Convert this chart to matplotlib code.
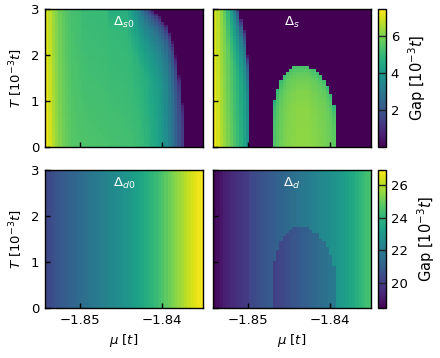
import numpy as np
import matplotlib
matplotlib.use("Agg")
import matplotlib.pyplot as plt

# ---------------- data ----------------
mu_range = [-1.8542, -1.8350]          # mu [t]
T_range = [0.0, 3.0]                   # T [1e-3 t]
n_T = 50

# s-wave, no coexistence: gap at T=0 per mu column and critical temperature
gap_s0_T0 = [7.3, 7.0, 6.6, 6.3, 6.05, 5.85, 5.7, 5.6, 5.5, 5.45, 5.42, 5.4, 5.38, 5.36,
             5.35, 5.34, 5.33, 5.32, 5.31, 5.3, 5.29, 5.28, 5.27, 5.26, 5.24, 5.22, 5.2,
             5.15, 5.1, 5.0, 4.9, 4.75, 4.6, 4.45, 4.25, 4.0, 3.7, 3.3, 2.9, 2.4, 1.9,
             1.4, 0, 0, 0, 0, 0, 0]
Tc_s0 = [8.0] * 11 + [6.0] * 8 + [5.0] * 6 + [4.5, 4.0, 3.7, 3.4, 3.25, 3.12, 3.02, 2.95,
                                              2.88, 2.8, 2.72, 2.62, 2.48, 2.25, 1.95,
                                              1.55, 0.95, 0, 0, 0, 0, 0, 0]

# s-wave in coexistence
gap_s_T0 = [7.3, 7.0, 6.6, 6.3, 6.0, 5.7, 5.4, 5.1, 4.8, 4.4, 3.9,
            0, 0, 0, 0, 0, 0, 0,
            5.4, 5.6, 5.8, 5.95, 6.05, 6.1, 6.15, 6.2, 6.2, 6.2, 6.2, 6.15, 6.1, 6.05,
            6.0, 5.95, 5.85, 5.75, 5.6,
            0, 0, 0, 0, 0, 0, 0, 0, 0, 0, 0]
Tc_s = [8.0, 7.0, 6.0, 5.0, 4.2, 3.7, 3.35, 3.05, 2.75, 2.5, 1.95,
        0, 0, 0, 0, 0, 0, 0,
        1.0, 1.25, 1.45, 1.55, 1.63, 1.68, 1.72, 1.72, 1.72, 1.72, 1.72, 1.68, 1.65,
        1.6, 1.53, 1.45, 1.3, 1.15, 0.9,
        0, 0, 0, 0, 0, 0, 0, 0, 0, 0, 0]
dome_first_col = 18

# reduction of the s gap with T/Tc
t_ratio = [0.0, 0.5, 0.7, 0.85, 0.93, 0.97, 1.0]
fac_s = [1.0, 0.94, 0.82, 0.66, 0.48, 0.32, 0.15]
fac_dome = [1.0, 0.99, 0.97, 0.94, 0.91, 0.88, 0.86]

# d-wave, no coexistence
gap_d0 = [20.3, 20.4, 20.55, 20.7, 20.8, 20.95, 21.05, 21.15, 21.25, 21.35, 21.45, 21.55,
          21.65, 21.75, 21.85, 21.95, 22.05, 22.15, 22.25, 22.35, 22.45, 22.55, 22.65,
          22.75, 22.85, 22.95, 23.1, 23.25, 23.4, 23.55, 23.7, 23.85, 24.0, 24.2,
          24.4, 24.6, 24.8, 25.0, 25.2, 25.4, 25.6, 25.8, 26.0, 26.2, 26.4,
          26.55, 26.7, 26.8]

# d-wave in coexistence: outside the s dome and inside it
gap_d_out = [18.6, 18.8, 19.0, 19.2, 19.35, 19.5, 19.6, 19.7, 19.8, 19.9, 20.0, 20.3,
             20.4, 20.5, 20.6, 20.7, 20.8, 20.9, 21.0, 21.1, 21.2, 21.3, 21.4, 21.5, 21.6,
             21.7, 21.8, 21.9, 22.0, 22.1, 22.2, 22.3, 22.4, 22.5, 22.6, 22.7, 22.8, 22.9,
             23.0, 23.15, 23.3, 23.45, 23.6, 23.8, 24.0, 24.2, 24.35, 24.5]
gap_d_in = [20.1, 20.2, 20.3, 20.4, 20.5, 20.6, 20.7, 20.8, 20.9, 21.0, 21.1, 21.2, 21.3,
            21.4, 21.5, 21.6, 21.7, 21.8, 21.9]

titles = [r"$\Delta_{s0}$", r"$\Delta_{s}$", r"$\Delta_{d0}$", r"$\Delta_{d}$"]
mu_ticks = [-1.85, -1.84]
T_ticks = [0, 1, 2, 3]
cbar_ticks_s = [2, 4, 6]
cbar_ticks_d = [20, 22, 24, 26]
lim_s = [0.0, 7.45]
lim_d = [18.5, 26.9]

# ---------------- build maps ----------------
n_mu = len(gap_s0_T0)
T_c = (np.arange(n_T) + 0.5) * (T_range[1] - T_range[0]) / n_T
Tg = T_c[:, None]


def s_map(g0, tc, dome_from=None):
    g0 = np.asarray(g0)[None, :]
    tc = np.asarray(tc, dtype=float)[None, :]
    ratio = np.where(tc > 0, Tg / np.where(tc > 0, tc, 1), 2.0)
    f = np.interp(ratio, t_ratio, fac_s)
    if dome_from is not None:
        fd = np.interp(ratio, t_ratio, fac_dome)
        cols = np.arange(n_mu)[None, :]
        f = np.where(cols >= dome_from, fd, f)
    return np.where(ratio <= 1.0, g0 * f, 0.0)


map_s0 = s_map(gap_s0_T0, Tc_s0)
map_s = s_map(gap_s_T0, Tc_s, dome_from=dome_first_col)
map_d0 = np.repeat(np.asarray(gap_d0)[None, :], n_T, axis=0)
din_full = np.array(gap_d_out, dtype=float)
din_full[dome_first_col:dome_first_col + len(gap_d_in)] = gap_d_in
dome_mask = (np.arange(n_mu)[None, :] >= dome_first_col) & (Tg < np.asarray(Tc_s)[None, :])
map_d = np.where(dome_mask, din_full[None, :], np.asarray(gap_d_out)[None, :])

# ---------------- figure ----------------
fig = plt.figure(figsize=(4.4, 3.58), dpi=100)
W, H = 0.3591, 0.3855
pos = {
    (0, 0): [0.1023, 0.5894, W, H],
    (0, 1): [0.4841, 0.5894, W, H],
    (1, 0): [0.1023, 0.1397, W, H],
    (1, 1): [0.4841, 0.1397, W, H],
}
cpos = [[0.8591, 0.5894, 0.0182, H], [0.8591, 0.1397, 0.0182, H]]
maps = [[map_s0, map_s], [map_d0, map_d]]
lims = [lim_s, lim_d]
cticks = [cbar_ticks_s, cbar_ticks_d]
extent = [mu_range[0], mu_range[1], T_range[0], T_range[1]]
fs = 9.5

for r in range(2):
    im = None
    for c in range(2):
        ax = fig.add_axes(pos[(r, c)])
        im = ax.imshow(maps[r][c], origin="lower", aspect="auto", extent=extent,
                       cmap="viridis", vmin=lims[r][0], vmax=lims[r][1],
                       interpolation="nearest")
        ax.set_xlim(mu_range)
        ax.set_ylim(T_range)
        ax.set_xticks(mu_ticks)
        ax.set_yticks(T_ticks)
        ax.tick_params(direction="in", length=3.5, width=1.0, labelsize=fs,
                       top=False, right=False, pad=4)
        for sp in ax.spines.values():
            sp.set_linewidth(1.0)
        if c == 0:
            ax.set_ylabel(r"$T$ [$10^{-3}t$]", fontsize=fs)
        else:
            ax.set_yticklabels([])
        if r == 1:
            ax.set_xticklabels(["\u22121.85", "\u22121.84"])
            ax.set_xlabel(r"$\mu$ [$t$]", fontsize=fs)
        else:
            ax.set_xticklabels([])
        ax.text(0.5, 0.9, titles[2 * r + c], transform=ax.transAxes, color="white",
                ha="center", va="center", fontsize=fs)
    cax = fig.add_axes(cpos[r])
    cb = fig.colorbar(im, cax=cax)
    cb.set_ticks(cticks[r])
    cb.set_ticklabels([str(v) for v in cticks[r]])
    cb.ax.minorticks_off()
    cb.ax.tick_params(direction="in", length=6, width=1.0, labelsize=fs, color="#222222")
    cb.outline.set_linewidth(1.0)
    cb.set_label(r"Gap [$10^{-3}t$]", fontsize=10.5, labelpad=5)

fig.savefig("out.png", dpi=100)
